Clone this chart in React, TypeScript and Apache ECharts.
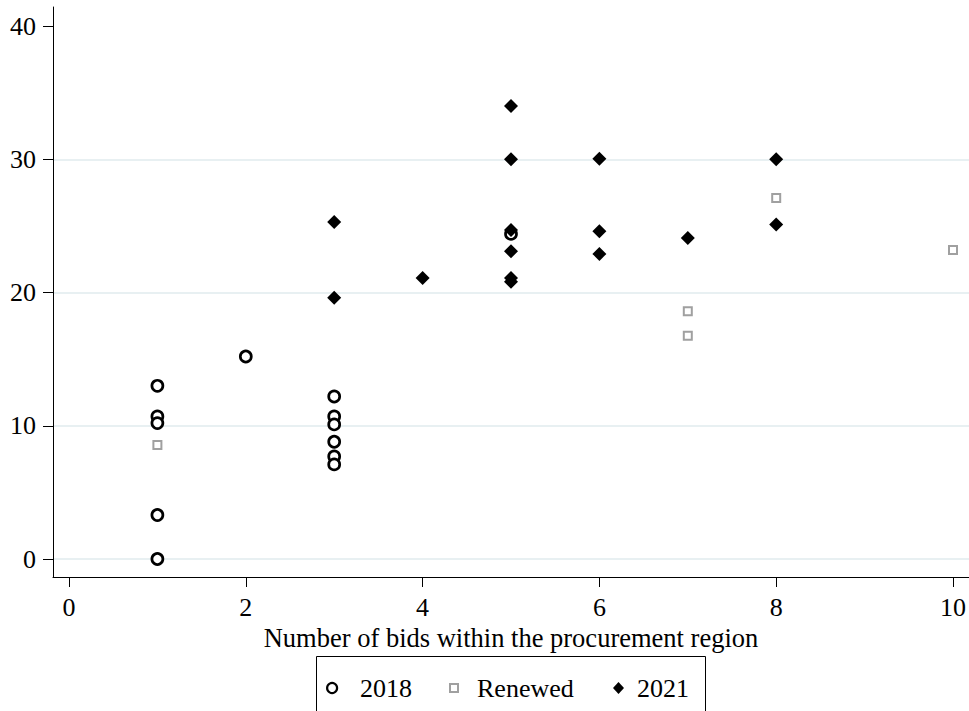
import React, { useEffect, useRef } from "react";
import * as echarts from "echarts";

const x2018 = [1, 1, 1, 1, 1, 2, 3, 3, 3, 3, 3, 3, 5];
const y2018 = [13.0, 10.7, 10.2, 3.3, 0.0, 15.2, 12.2, 10.7, 10.1, 8.8, 7.7, 7.1, 24.4];

const xRenewed = [1, 7, 7, 8, 10];
const yRenewed = [8.55, 18.6, 16.75, 27.1, 23.2];

const x2021 = [3, 3, 4, 5, 5, 5, 5, 5, 5, 6, 6, 6, 7, 8, 8];
const y2021 = [25.3, 19.6, 21.1, 34.0, 30.0, 24.7, 23.1, 21.1, 20.8, 30.05, 24.6, 22.9, 24.1, 30.0, 25.1];

const xTicks = [0, 2, 4, 6, 8, 10];
const yTicks = [0, 10, 20, 30, 40];
const gridYs = [0, 10, 20, 30];

const seriesNames = ["2018", "Renewed", "2021"];
const xTitle = "Number of bids within the procurement region";

const zip = (xs: number[], ys: number[]) => xs.map((x, i) => [x, ys[i]]);

export default function App() {
  const ref = useRef<HTMLDivElement>(null);
  useEffect(() => {
    const chart = echarts.init(ref.current!, null, { renderer: "svg" });
    const font = "'Liberation Serif', 'Times New Roman', serif";
    const txt = { fontFamily: font, fontSize: 26, color: "#000" };
    chart.setOption({
      animation: false,
      backgroundColor: "#fff",
      grid: { left: 53, top: 7, width: 916, height: 570 },
      xAxis: {
        type: "value",
        min: -0.181,
        max: 10.181,
        axisLine: { show: true, onZero: false, lineStyle: { color: "#000", width: 1 } },
        axisTick: { show: true, length: 10, customValues: xTicks, lineStyle: { color: "#000", width: 1 } },
        axisLabel: { customValues: xTicks, margin: 17, ...txt },
        splitLine: { show: false },
        name: xTitle,
        nameLocation: "middle",
        nameGap: 44,
        nameTextStyle: { ...txt, fontSize: 26.5 },
      },
      yAxis: {
        type: "value",
        min: -1.35,
        max: 41.43,
        axisLine: { show: true, onZero: false, lineStyle: { color: "#000", width: 1 } },
        axisTick: { show: true, length: 10, customValues: yTicks, lineStyle: { color: "#000", width: 1 } },
        axisLabel: { customValues: yTicks, margin: 17, ...txt },
        splitLine: { show: false },
      },
      legend: [
        {
          left: 326,
          top: 675,
          padding: 0,
          itemWidth: 10,
          itemHeight: 10,
          data: [{ name: seriesNames[0], icon: "circle", itemStyle: { color: "#fff", borderColor: "#000", borderWidth: 2.2 } }],
          textStyle: { ...txt, padding: [0, 0, 0, 18] },
        },
        {
          left: 449,
          top: 675,
          padding: 0,
          itemWidth: 8,
          itemHeight: 8,
          data: [{ name: seriesNames[1], icon: "rect", itemStyle: { color: "#fff", borderColor: "#a0a0a0", borderWidth: 2 } }],
          textStyle: { ...txt, padding: [0, 0, 0, 14] },
        },
        {
          left: 613,
          top: 675,
          padding: 0,
          itemWidth: 11,
          itemHeight: 12,
          data: [{ name: seriesNames[2], icon: "diamond", itemStyle: { color: "#000", borderWidth: 0 } }],
          textStyle: { ...txt, padding: [0, 0, 0, 8] },
        },
      ],
      graphic: [
        {
          type: "rect",
          shape: { x: 316.5, y: 656.5, width: 389, height: 80 },
          style: { fill: "none", stroke: "#000", lineWidth: 1 },
          silent: true,
        },
      ],
      series: [
        {
          name: "gridlines",
          type: "scatter",
          data: [],
          silent: true,
          z: 0,
          markLine: {
            silent: true,
            z: 0,
            symbol: ["none", "none"],
            label: { show: false },
            lineStyle: { color: "#e8f0f2", width: 2, type: "solid" },
            data: gridYs.map((v) => ({ yAxis: v })),
          },
        },
        {
          name: seriesNames[0],
          type: "scatter",
          z: 3,
          symbol: "circle",
          symbolSize: 11,
          itemStyle: { color: "#fff", borderColor: "#000", borderWidth: 2.7, opacity: 1 },
          data: zip(x2018, y2018),
        },
        {
          name: seriesNames[1],
          type: "scatter",
          z: 4,
          symbol: "rect",
          symbolSize: 8,
          itemStyle: { color: "#fff", borderColor: "#a0a0a0", borderWidth: 2, opacity: 1 },
          data: zip(xRenewed, yRenewed),
        },
        {
          name: seriesNames[2],
          type: "scatter",
          z: 5,
          symbol: "diamond",
          symbolSize: 14,
          itemStyle: { color: "#000", opacity: 1 },
          data: zip(x2021, y2021),
        },
      ],
    });
    return () => chart.dispose();
  }, []);
  return <div ref={ref} style={{ position: "absolute", left: 0, top: 0, width: 969, height: 711 }} />;
}
